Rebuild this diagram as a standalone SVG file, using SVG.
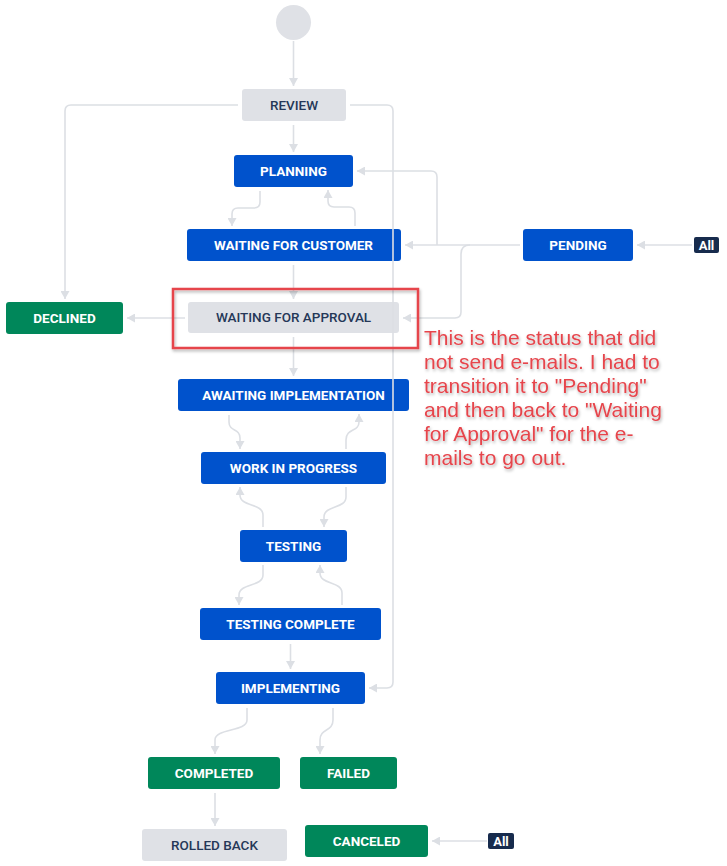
<svg xmlns="http://www.w3.org/2000/svg" width="727" height="866" viewBox="0 0 727 866">
<defs>
<style>
.blue{fill:#0052cc}
.green{fill:#00875a}
.gray{fill:#dfe1e6}
.lt{font-family:Roboto,"Liberation Sans",Arial,sans-serif;font-size:13.5px;font-weight:bold;fill:#ffffff;text-anchor:middle}
.dt{font-family:Roboto,"Liberation Sans",Arial,sans-serif;font-size:13.5px;font-weight:500;fill:#253858;text-anchor:middle}
.conn path{fill:none;stroke:#dcdfe4;stroke-width:1.6;marker-end:url(#ah)}
.badge{fill:#172b4d}
.bt{font-family:Roboto,"Liberation Sans",Arial,sans-serif;font-size:13px;font-weight:bold;fill:#ffffff;text-anchor:middle}
.note{font-family:"Liberation Sans",Arial,sans-serif;font-size:21px;fill:#e6454c}
</style>
<marker id="ah" markerUnits="userSpaceOnUse" markerWidth="9" markerHeight="9" refX="8" refY="4.5" orient="auto">
<path d="M0,0 L8,4.5 L0,9 z" fill="#dcdfe4"/>
</marker>
<filter id="sh" x="-10%" y="-10%" width="120%" height="130%">
<feDropShadow dx="1" dy="2" stdDeviation="1.5" flood-color="#000000" flood-opacity="0.3"/>
</filter>
</defs>
<rect width="727" height="866" fill="#ffffff"/>

<g id="start"><circle cx="293.5" cy="22.5" r="17.5" class="gray"/></g>
<g id="review"><rect x="242" y="89" width="104" height="32" rx="3" class="gray"/><text x="294" y="109.5" class="dt">REVIEW</text></g>
<g id="planning"><rect x="234" y="155" width="119" height="32" rx="3" class="blue"/><text x="293.5" y="175.5" class="lt">PLANNING</text></g>
<g id="waiting-customer"><rect x="187" y="229" width="214" height="32" rx="3" class="blue"/><text x="293.5" y="249.5" class="lt">WAITING FOR CUSTOMER</text></g>
<g id="pending"><rect x="523" y="229" width="110" height="32" rx="3" class="blue"/><text x="578" y="249.5" class="lt">PENDING</text></g>
<g id="all-pending"><rect x="694" y="237" width="25" height="16" rx="2" class="badge"/><text x="706.5" y="249.5" class="bt">All</text></g>
<g id="declined"><rect x="6" y="302" width="117" height="32" rx="3" class="green"/><text x="64.5" y="322.5" class="lt">DECLINED</text></g>
<g id="waiting-approval"><rect x="188" y="302" width="211" height="31" rx="3" class="gray"/><text x="293.5" y="322" class="dt">WAITING FOR APPROVAL</text></g>
<g id="awaiting-implementation"><rect x="178" y="379" width="231" height="32" rx="3" class="blue"/><text x="293.5" y="399.5" class="lt">AWAITING IMPLEMENTATION</text></g>
<g id="work-in-progress"><rect x="201" y="452" width="185" height="32" rx="3" class="blue"/><text x="293.5" y="472.5" class="lt">WORK IN PROGRESS</text></g>
<g id="testing"><rect x="240" y="530" width="107" height="32" rx="3" class="blue"/><text x="293.5" y="550.5" class="lt">TESTING</text></g>
<g id="testing-complete"><rect x="200" y="608" width="181" height="32" rx="3" class="blue"/><text x="290.5" y="628.5" class="lt">TESTING COMPLETE</text></g>
<g id="implementing"><rect x="216" y="672" width="149" height="32" rx="3" class="blue"/><text x="290.5" y="692.5" class="lt">IMPLEMENTING</text></g>
<g id="completed"><rect x="148" y="757" width="132" height="32" rx="3" class="green"/><text x="214" y="777.5" class="lt">COMPLETED</text></g>
<g id="failed"><rect x="300" y="757" width="97" height="32" rx="3" class="green"/><text x="348.5" y="777.5" class="lt">FAILED</text></g>
<g id="rolled-back"><rect x="142" y="829" width="145" height="32" rx="3" class="gray"/><text x="214.5" y="849.5" class="dt">ROLLED BACK</text></g>
<g id="canceled"><rect x="305" y="825" width="123" height="32" rx="3" class="green"/><text x="366.5" y="845.5" class="lt">CANCELED</text></g>
<g id="all-canceled"><rect x="488" y="833" width="26" height="16" rx="2" class="badge"/><text x="501" y="845.5" class="bt">All</text></g>

<g id="connectors" class="conn">
<path d="M293.5,41 V86"/>
<path d="M293.5,125 V152"/>
<path d="M238,105 H71 Q65,105 65,111 V299"/>
<path d="M350,105 H387 Q393,105 393,111 V682 Q393,688 387,688 H369"/>
<path d="M260,191 V202 Q260,208 254,208 H238 Q232,208 232,214 V226"/>
<path d="M355,226 V213 Q355,207 349,207 H334 Q328,207 328,201 V190"/>
<path d="M520,245 H405"/>
<path d="M437,245 V177 Q437,171 431,171 H357"/>
<path d="M470,245 Q461,245 461,254 V312 Q461,318 455,318 H403"/>
<path d="M293.5,265 V299"/>
<path d="M185,318 H127"/>
<path d="M293.5,337 V376"/>
<path d="M229,415 V422 C229,432 240,428 240,438 V449"/>
<path d="M346,449 V440 C346,428 359,432 359,422 V414"/>
<path d="M263,527 V515 C263,503 240,507 240,495 V487"/>
<path d="M346,487 V497 C346,509 324,505 324,517 V527"/>
<path d="M263,565 V575 C263,587 239,583 239,595 V605"/>
<path d="M342,605 V593 C342,581 320,585 320,573 V565"/>
<path d="M290.5,644 V669"/>
<path d="M247,708 V720 C247,732 215,728 215,740 V754"/>
<path d="M333,708 V720 C333,732 320,728 320,740 V754"/>
<path d="M215,793 V826"/>
<path d="M692,245 H637"/>
<path d="M487,841 H432"/>
</g>

<g id="annotation" filter="url(#sh)">
<rect x="173" y="289" width="245" height="59" fill="none" stroke="#e6454c" stroke-width="2.5"/>
<text class="note">
<tspan x="424" y="345">This is the status that did</tspan>
<tspan x="424" y="369">not send e-mails. I had to</tspan>
<tspan x="424" y="393">transition it to "Pending"</tspan>
<tspan x="424" y="417">and then back to "Waiting</tspan>
<tspan x="424" y="441">for Approval" for the e-</tspan>
<tspan x="424" y="465">mails to go out.</tspan>
</text>
</g>
</svg>
